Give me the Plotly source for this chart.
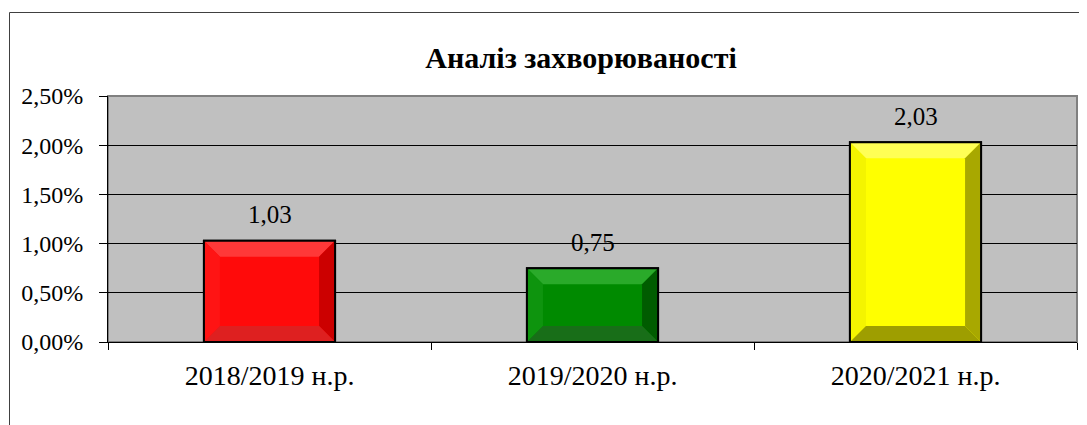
import plotly.graph_objects as go

categories = ["2018/2019 н.р.", "2019/2020 н.р.", "2020/2021 н.р."]
values_pct = [1.03, 0.75, 2.03]
face_colors = ["#FF0A0A", "#008A00", "#FFFF00"]
top_colors = ["#FF3838", "#2AAA2A", "#FFFF55"]
left_colors = ["#FF1414", "#0E940E", "#F4F400"]
right_colors = ["#CC0000", "#005C00", "#A8A800"]
bottom_colors = ["#DE2020", "#186E18", "#9E9E00"]
y_ticks = [0, 0.005, 0.01, 0.015, 0.02, 0.025]

OFF = 8  # default page body margin
W, H = 1087 - OFF, 425 - OFF
ML, MR, MT, MB = 108 - OFF, 10, 96 - OFF, 83
plot_w = W - ML - MR
plot_h = H - MT - MB
y_max = 0.025
bar_w = 0.406
bevel_px = 16
dx = bevel_px / (plot_w / 3)
dy = bevel_px * y_max / plot_h

y_vals = [v / 100 for v in values_pct]
labels = [f"{v:.2f}".replace(".", ",") for v in values_pct]
serif = "'Liberation Serif', 'Times New Roman', serif"

fig = go.Figure()
fig.add_trace(go.Bar(
    x=categories, y=y_vals,
    width=bar_w,
    marker=dict(color=face_colors, line=dict(color="black", width=2)),
    hoverinfo="skip",
))

shapes = []
for i, v in enumerate(y_vals):
    x0, x1 = i - bar_w / 2, i + bar_w / 2
    xi0, xi1 = x0 + dx, x1 - dx
    yi0, yi1 = dy, v - dy
    polys = [
        ([(x0, v), (x1, v), (xi1, yi1), (xi0, yi1)], top_colors[i]),
        ([(x0, 0), (x0, v), (xi0, yi1), (xi0, yi0)], left_colors[i]),
        ([(x1, 0), (x1, v), (xi1, yi1), (xi1, yi0)], right_colors[i]),
        ([(x0, 0), (x1, 0), (xi1, yi0), (xi0, yi0)], bottom_colors[i]),
    ]
    for pts, col in polys:
        path = "M " + " L ".join(f"{px},{py}" for px, py in pts) + " Z"
        shapes.append(dict(type="path", path=path, xref="x", yref="y",
                           fillcolor=col, line=dict(width=0), layer="above"))
    shapes.append(dict(type="rect", xref="x", yref="y", x0=x0, x1=x1, y0=0, y1=v,
                       line=dict(color="black", width=2), fillcolor="rgba(0,0,0,0)",
                       layer="above"))

shapes.append(dict(type="rect", xref="paper", yref="paper", x0=0, x1=1, y0=0, y1=1,
                   line=dict(color="#808080", width=2), fillcolor="rgba(0,0,0,0)",
                   layer="below"))
shapes.append(dict(type="rect", xref="paper", yref="paper",
                   x0=(1.5 - ML) / plot_w, x1=(W + 10 - ML) / plot_w,
                   y0=-(MB + 20) / plot_h, y1=(plot_h + MT - 4.5) / plot_h,
                   line=dict(color="#404040", width=1), fillcolor="rgba(0,0,0,0)",
                   layer="below"))

annotations = [
    dict(x=c, y=v, xref="x", yref="y", text=t, showarrow=False,
         yanchor="middle", yshift=26,
         font=dict(family=serif, size=25, color="black"))
    for c, v, t in zip(categories, y_vals, labels)
]

fig.update_layout(
    width=W, height=H,
    margin=dict(l=ML, r=MR, t=MT, b=MB),
    paper_bgcolor="white", plot_bgcolor="#C0C0C0",
    separators=",.",
    showlegend=False,
    bargap=1 - bar_w,
    shapes=shapes,
    annotations=annotations,
    title=dict(text="<b>Аналіз захворюваності</b>", x=(581 - OFF) / W, xanchor="center",
               y=1 - (57 - OFF) / H, yanchor="middle",
               font=dict(family=serif, size=30, color="black")),
    font=dict(family=serif, color="black"),
)
fig.update_xaxes(
    type="category", tickson="boundaries", ticks="outside", ticklen=7,
    tickcolor="black", tickwidth=1, showgrid=False,
    showline=True, linecolor="black", linewidth=1,
    tickfont=dict(family=serif, size=28, color="black"),
    ticklabelstandoff=8,
)
fig.update_yaxes(
    range=[0, y_max], tickvals=y_ticks, tickformat=".2%",
    ticks="outside", ticklen=8, tickcolor="black", tickwidth=1,
    showgrid=True, gridcolor="black", gridwidth=1,
    showline=True, linecolor="black", linewidth=1,
    zeroline=False,
    tickfont=dict(family=serif, size=24, color="black"),
    ticklabelstandoff=11,
)

fig.write_html("out.html")
